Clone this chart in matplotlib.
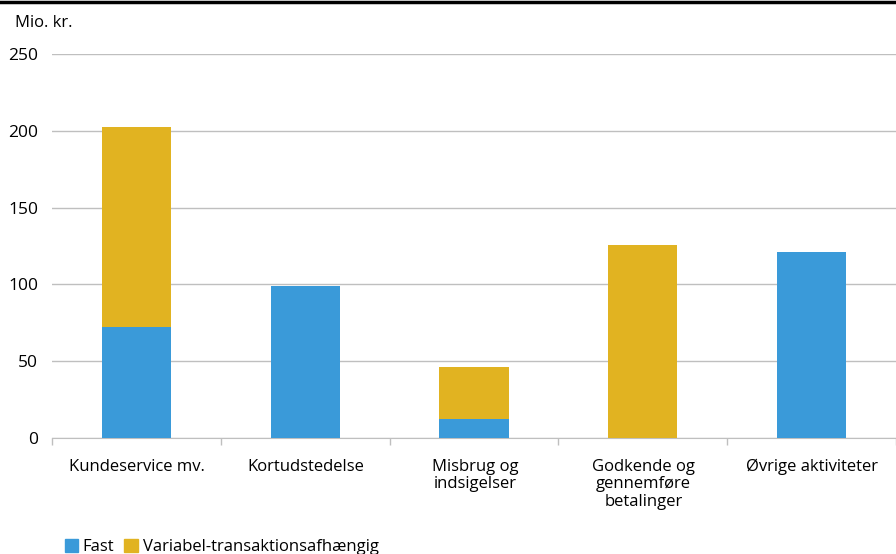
import numpy as np
import matplotlib.pyplot as plt
from matplotlib.lines import Line2D
from matplotlib.patches import Patch

plt.rcParams['font.family'] = ['Open Sans', 'DejaVu Sans']

categories = ["Kundeservice mv.", "Kortudstedelse", "Misbrug og\nindsigelser",
              "Godkende og\ngennemføre\nbetalinger", "Øvrige aktiviteter"]
fast = [72.5, 99, 12.5, 0, 121]
variabel = [130, 0, 33.5, 125.5, 0]

blue = "#3A9AD9"
gold = "#E1B321"
grid_c = "#BFBFBF"

def main():
    fig = plt.figure(figsize=(8.96, 5.54), dpi=100)
    ax = fig.add_axes([0.058, 0.2094, 0.942, 0.6931])

    x = np.arange(len(categories))
    ax.bar(x, fast, width=0.41, color=blue, zorder=3)
    ax.bar(x, variabel, width=0.41, bottom=fast, color=gold, zorder=3)

    ax.set_xlim(-0.5, len(categories) - 0.5)
    ax.set_ylim(0, 250)
    ax.set_yticks([0, 50, 100, 150, 200, 250])
    ax.yaxis.grid(True, color=grid_c, lw=1, zorder=0)
    ax.tick_params(axis='y', length=0, pad=10, labelsize=12.5)

    ax.set_xticks(x + 0.005)
    ax.set_xticklabels(categories, fontsize=12, linespacing=1.12, va='top')
    ax.tick_params(axis='x', which='major', length=0, pad=15)
    ax.set_xticks(np.arange(-0.5, len(categories)), minor=True)
    ax.tick_params(axis='x', which='minor', length=5, color=grid_c, width=1)

    for s in ['top', 'right', 'left']:
        ax.spines[s].set_visible(False)
    ax.spines['bottom'].set_color(grid_c)

    fig.text(0.017, 0.958, "Mio. kr.", fontsize=12, va='center', ha='left')
    fig.add_artist(Line2D([0, 1], [0.996, 0.996], color='black', lw=2.5,
                          transform=fig.transFigure))

    handles = [Patch(color=blue, label="Fast"),
               Patch(color=gold, label="Variabel-transaktionsafhængig")]
    fig.legend(handles=handles, loc='center left', bbox_to_anchor=(0.072, 0.012),
               ncol=2, frameon=False, fontsize=12, handlelength=0.8,
               handleheight=0.8, handletextpad=0.3, columnspacing=0.6,
               borderpad=0, borderaxespad=0)

    fig.savefig("out.png", dpi=100)


if __name__ == "__main__":
    main()
